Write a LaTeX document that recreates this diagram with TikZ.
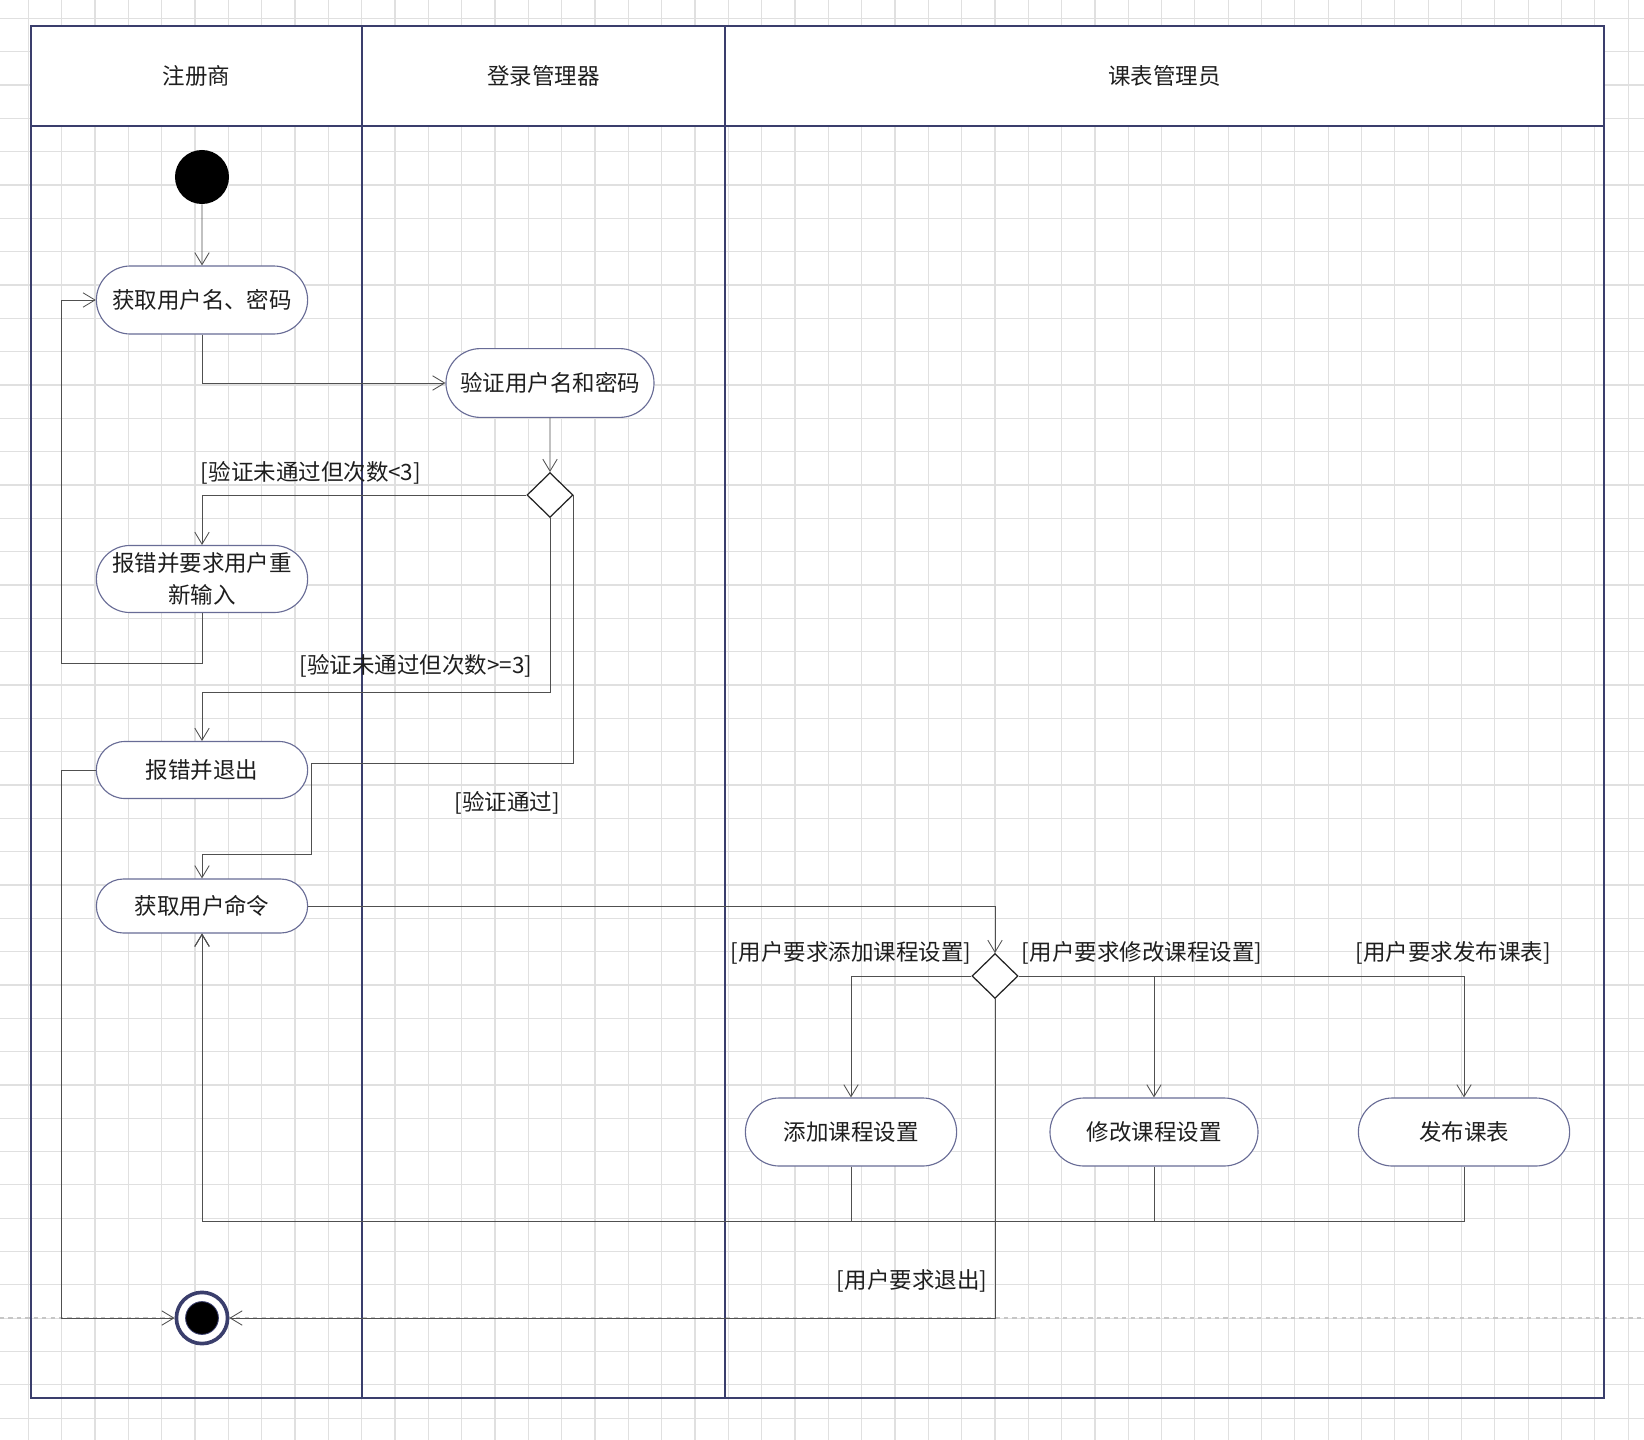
\documentclass[tikz,border=0pt]{standalone}
\usepackage{fontspec}
\setmainfont{Noto Sans CJK SC}
\usepackage{tikz}
\usetikzlibrary{positioning,calc,shapes.geometric,shapes.misc,arrows.meta}
\definecolor{lanenavy}{RGB}{58,62,108}
\definecolor{actedge}{RGB}{104,108,150}
\definecolor{flowgray}{RGB}{80,80,80}
\definecolor{gridgray}{RGB}{224,224,224}
\definecolor{labelgray}{RGB}{30,30,30}

\begin{document}
\begin{tikzpicture}[x=0.025cm,y=-0.025cm,
  every node/.style={font=\fontsize{16pt}{23pt}\selectfont,text=labelgray},
  act/.style={rounded rectangle,draw=actedge,fill=white,line width=0.8pt,
    minimum width=5.42cm,minimum height=1.7cm,align=center,inner sep=2pt},
  choice/.style={diamond,draw=black!85,fill=white,line width=0.9pt,
    minimum width=1.15cm,minimum height=1.12cm,inner sep=0pt},
  flow/.style={draw=flowgray,line width=0.6pt,-{Straight Barb[length=0.3cm,width=0.36cm]}},
  guard/.style={inner sep=1pt}]
  \useasboundingbox (0,0) rectangle (1644,1440);
  \fill[white] (0,0) rectangle (1644,1440);

  % background grid
  \foreach \i in {0,...,48}
    \draw[gridgray,line width=0.9pt] ({28.3+33.33*\i},0) -- ({28.3+33.33*\i},1440);
  \foreach \j in {0,...,42}
    \draw[gridgray,line width=0.9pt] (0,{18.3+33.33*\j}) -- (1644,{18.3+33.33*\j});
  \draw[gray!45,dashed,line width=0.8pt] (0,1318) -- (1644,1318);

  % swimlanes
  \fill[white] (31,26) rectangle (1604,126);
  \draw[lanenavy,line width=0.8pt] (31,26) rectangle (1604,1398);
  \draw[lanenavy,line width=0.8pt] (31,126) -- (1604,126);
  \draw[lanenavy,line width=0.8pt] (362,26) -- (362,1398);
  \draw[lanenavy,line width=0.8pt] (725,26) -- (725,1398);
  \node (laneA) at (196.5,76) {注册商};
  \node (laneB) at (543.5,76) {登录管理器};
  \node (laneC) at (1164.5,76) {课表管理员};

  % activities
  \node[circle,fill=black,minimum size=1.35cm,inner sep=0pt] (start) at (202,177) {};
  \node[act] (a1) at (202,300) {获取用户名、密码};
  \node[act,minimum width=5.34cm,minimum height=1.72cm] (a2) at (550,383) {验证用户名和密码};
  \node[choice] (d1) at (550,495) {};
  \node[act,minimum height=1.675cm] (a3) at (202,579) {报错并要求用户重\\新输入};
  \node[act,minimum height=1.425cm] (a4) at (202,770) {报错并退出};
  \node[act,minimum height=1.35cm] (a5) at (202,906) {获取用户命令};
  \node[choice] (d2) at (995,976) {};
  \node[act] (a6) at (851,1132) {添加课程设置};
  \node[act,minimum width=5.34cm] (a7) at (1154,1132) {修改课程设置};
  \node[act] (a8) at (1464,1132) {发布课表};
  \node[circle,draw=lanenavy,line width=2.6pt,fill=white,minimum size=1.28cm,inner sep=0pt] (stop) at (202,1318) {};
  \fill[black,draw=lanenavy,line width=0.6pt] (stop.center) circle (0.41cm);

  % guards
  \node[guard] (g1) at (311,473) {[验证未通过但次数<3]};
  \node[guard] (g2) at (416,666) {[验证未通过但次数>=3]};
  \node[guard] (g3) at (507,803) {[验证通过]};
  \node[guard] (g4) at (851,953) {[用户要求添加课程设置]};
  \node[guard] (g5) at (1142,953) {[用户要求修改课程设置]};
  \node[guard] (g6) at (1453,953) {[用户要求发布课表]};
  \node[guard] (g7) at (912,1281) {[用户要求退出]};

  % flows
  \coordinate (retry) at (61,663);
  \coordinate (fail) at (550,692);
  \coordinate (passA) at (311,763);
  \coordinate (passB) at (202,854);
  \coordinate (quit) at (61,1318);
  \coordinate (back) at (202,1221);
  \draw[flow] (start) -- (a1);
  \draw[flow] (a1.south) |- (a2.west);
  \draw[flow] (a2) -- (d1);
  \draw[flow] (d1.west) -| (a3.north);
  \draw[flow] (a3.south) |- (retry) |- (a1.west);
  \draw[flow] (d1.south) -- (fail) -| (a4.north);
  \draw[flow] (d1.east) |- (passA) |- (passB) -- (a5.north);
  \draw[flow] (a4.west) -| (quit) -- (stop.west);
  \draw[flow] (a5.east) -| (d2.north);
  \draw[flow] (d2.west) -| (a6.north);
  \draw[flow] (d2.east) -| (a7.north);
  \draw[flow] (d2.east) -| (a8.north);
  \foreach \n in {a6,a7,a8}
    \draw[flow] (\n.south) |- (back) -- (a5.south);
  \draw[flow] (d2.south) |- (stop.east);
\end{tikzpicture}
\end{document}
